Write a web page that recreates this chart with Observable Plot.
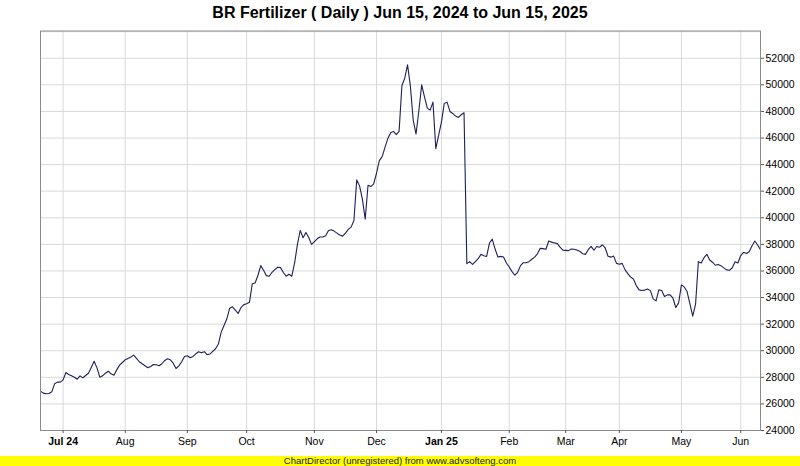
<!DOCTYPE html>
<html>
<head>
<meta charset="utf-8">
<script src="https://cdn.jsdelivr.net/npm/d3@7"></script>
<script src="https://cdn.jsdelivr.net/npm/@observablehq/plot@0.6"></script>
<style>
  html, body { margin: 0; padding: 0; background: #fff; }
  #wrap { position: relative; width: 800px; height: 466px; overflow: hidden; background: #fff; font-family: "Liberation Sans", Arial, sans-serif; }
  #title { position: absolute; left: 0; top: 5px; width: 800px; text-align: center; font-size: 16px; line-height: 16px; font-weight: bold; color: #000; white-space: nowrap; }
  #chart { position: absolute; left: 0; top: 30px; }
  #footer { position: absolute; left: 0; top: 456px; width: 800px; height: 10px; background: #ffff00; text-align: center; font-size: 9.5px; line-height: 10px; color: #222; white-space: nowrap; }
</style>
</head>
<body>
<div id="wrap">
  <div id="title">BR Fertilizer ( Daily ) Jun 15, 2024 to Jun 15, 2025</div>
  <div id="chart"></div>
  <div id="footer">ChartDirector (unregistered) from www.advsofteng.com</div>
</div>
<script>
// Daily closing values, grouped by month (one value per trading day)
const jun2024 = [26960, 26810, 26760, 26780, 26910, 27510, 27640, 27640];
const jul2024 = [27810, 28360, 28210, 28110, 28010, 27860, 28110, 27960, 28140, 28310, 28760, 29210, 28710, 28010, 28110, 28310, 28460, 28260, 28160, 28560, 28915, 29115];
const aug2024 = [29320, 29420, 29520, 29670, 29420, 29170, 29020, 28870, 28715, 28815, 28965, 28940, 28870, 29020, 29270, 29390, 29320, 29065, 28665, 28865, 29170, 29570];
const sep2024 = [29620, 29470, 29570, 29770, 29920, 29840, 29930, 29700, 29750, 29950, 30150, 30500, 31400, 31900, 32400, 33200, 33300, 33050, 32800, 33250, 33470];
const oct2024 = [33530, 33640, 35035, 35100, 35660, 36400, 36050, 35650, 35600, 35900, 36100, 36280, 36250, 35900, 35600, 35750, 35600, 36600, 38000, 39050, 38500, 38900, 38520, 38000];
const nov2024 = [38200, 38420, 38550, 38560, 38650, 39050, 39100, 39000, 38850, 38700, 38620, 38850, 39130, 39300, 39800, 42850, 42400, 41400, 39900, 42450, 42350, 42550];
const dec2024 = [43350, 44300, 44600, 45300, 45950, 46400, 46500, 46250, 46500, 49950, 50500, 51500, 49900, 47350, 46300, 48050, 50000, 49100, 48250, 48100, 48700, 45200, 46200];
const jan2025 = [47200, 48600, 48700, 48000, 47850, 47650, 47550, 47750, 47900, 36550, 36700, 36490, 36700, 36920, 37250, 37150, 37090, 38100, 38396, 37650, 37050, 37100, 37050, 36600];
const feb2025 = [36300, 35950, 35680, 35900, 36400, 36620, 36620, 36700, 36880, 37040, 37290, 37700, 37680, 37630, 38250, 38170, 38110, 38070, 37800, 37570];
const mar2025 = [37550, 37530, 37650, 37630, 37570, 37480, 37300, 37250, 37600, 37850, 37560, 37840, 37780, 37970, 37730, 37110, 37040, 37120, 36570];
const apr2025 = [36510, 36570, 36100, 35800, 35535, 35390, 34900, 34580, 34534, 34560, 34640, 34520, 33900, 33750, 34580, 34534, 34080, 34200, 34200, 33950, 33250, 33600];
const may2025 = [34950, 34800, 34450, 33530, 32600, 33500, 36700, 36600, 37000, 37250, 36820, 36660, 36430, 36480, 36400, 36230, 36080, 36050, 36240, 36700, 36600];
const jun2025 = [37160, 37400, 37320, 37450, 37900, 38250, 37950, 37594];

const monthSeries = [jun2024, jul2024, aug2024, sep2024, oct2024, nov2024, dec2024, jan2025, feb2025, mar2025, apr2025, may2025, jun2025];
const monthLabels = ["", "Jul 24", "Aug", "Sep", "Oct", "Nov", "Dec", "Jan 25", "Feb", "Mar", "Apr", "May", "Jun"];
const yTicks = d3.range(24000, 52001, 2000);
const yGrid = d3.range(24000, 54001, 2000);

// Build the table and month-start positions (trading-day index axis)
const rows = [];
const monthStarts = [];
monthSeries.forEach((vals, m) => {
  monthStarts.push({idx: rows.length, label: monthLabels[m]});
  vals.forEach(v => rows.push({i: rows.length, v}));
});
const ticks = monthStarts.filter(d => d.label !== "");
const labelOf = new Map(ticks.map(d => [d.idx, d.label]));
const plainTicks = ticks.filter(d => !d.label.includes(" ")).map(d => d.idx);
const boldTicks = ticks.filter(d => d.label.includes(" ")).map(d => d.idx);

const chart = Plot.plot({
  width: 800,
  height: 426,
  marginLeft: 40,
  marginRight: 40,
  marginTop: 0.5,
  marginBottom: 26,
  style: {fontFamily: "'Liberation Sans', Arial, sans-serif", color: "#000", background: "transparent"},
  x: {type: "linear", domain: [0, rows.length - 1], axis: null},
  y: {domain: [24000, 54050], axis: null},
  marks: [
    Plot.gridY(yGrid, {stroke: "#d9d9d9", strokeOpacity: 1}),
    Plot.gridX(ticks.map(d => d.idx), {stroke: "#d9d9d9", strokeOpacity: 1}),
    Plot.lineY(rows, {x: "i", y: "v", stroke: "#1e1e5e", strokeWidth: 1.1}),
    Plot.frame({stroke: "#8a8a8a"}),
    Plot.axisY(yTicks, {anchor: "right", label: null, tickSize: 3, tickPadding: 2, fontSize: 10.5, stroke: "#555", tickFormat: d => String(d)}),
    Plot.axisX(plainTicks, {anchor: "bottom", label: null, tickSize: 3, tickPadding: 4, fontSize: 10.5, stroke: "#555", tickFormat: d => labelOf.get(d)}),
    Plot.axisX(boldTicks, {anchor: "bottom", label: null, tickSize: 3, tickPadding: 4, fontSize: 10.5, fontWeight: "bold", stroke: "#555", tickFormat: d => labelOf.get(d)})
  ]
});
document.getElementById("chart").appendChild(chart);
</script>
</body>
</html>
